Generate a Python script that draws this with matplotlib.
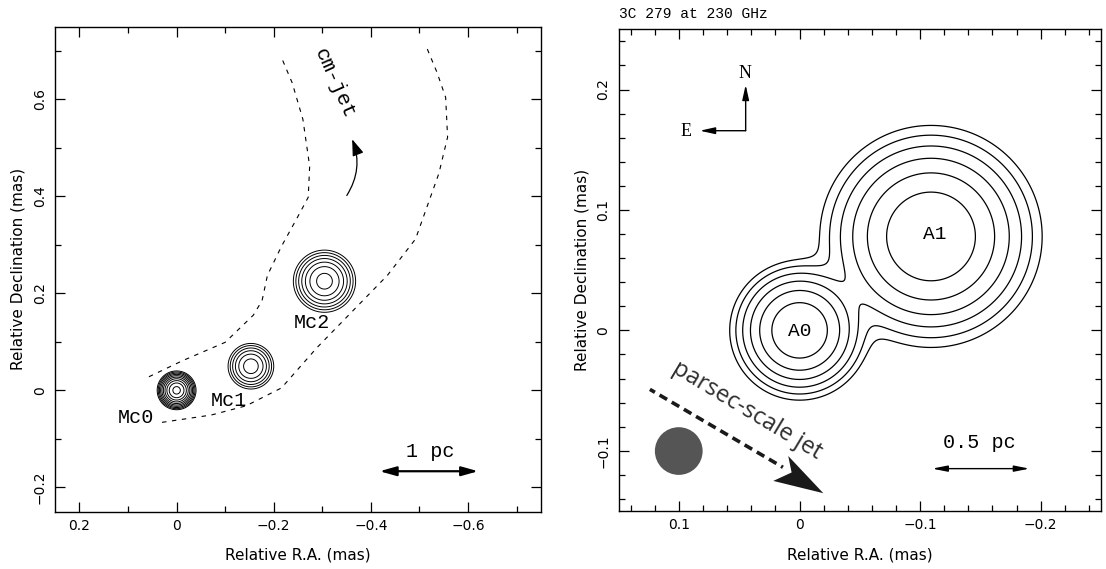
import numpy as np
import matplotlib
matplotlib.use('Agg')
import matplotlib.pyplot as plt
from matplotlib.patches import Circle, Polygon, FancyArrowPatch
from matplotlib.ticker import MultipleLocator, FuncFormatter

MONO = 'Liberation Mono'

# ---- left panel: components at 3 mm (RA, Dec in mas) ----
mc_names = ['Mc0', 'Mc1', 'Mc2']
mc_ra = [0.0, -0.153, -0.3045]
mc_dec = [0.0, 0.0497, 0.225]
mc_sigma = [0.0111, 0.0169, 0.0215]
mc_peak = [1.27, 0.093, 0.166]
mc_label_ra = [0.084, -0.107, -0.278]
mc_label_dec = [-0.056, -0.021, 0.140]
mc_levels = [2.0 ** -k for k in range(9, -1, -1)]

# edges of the cm-jet (dashed)
edge1_ra = [0.057, -0.012, -0.100, -0.158, -0.176, -0.187, -0.216, -0.249,
            -0.271, -0.274, -0.260, -0.238, -0.216]
edge1_dec = [0.028, 0.061, 0.099, 0.155, 0.185, 0.237, 0.297, 0.357,
             0.398, 0.462, 0.559, 0.634, 0.686]
edge2_ra = [0.030, -0.071, -0.143, -0.216, -0.289, -0.361, -0.434, -0.492,
            -0.540, -0.558, -0.554, -0.536, -0.514]
edge2_dec = [-0.066, -0.051, -0.032, 0.005, 0.088, 0.162, 0.237, 0.312,
             0.447, 0.522, 0.604, 0.656, 0.709]

cmjet_arrow = [(-0.3505, 0.4018), (-0.3615, 0.5177)]
cmjet_text = (-0.3245, 0.6336)
pc1_bar = [(-0.418, -0.1668), (-0.621, -0.1668)]
pc1_text = (-0.5215, -0.1256)

# ---- right panel: 230 GHz components ----
a_names = ['A0', 'A1']
a_ra = [0.0, -0.109]
a_dec = [0.0, 0.078]
a_sigma = [0.0202, 0.0321]
a_peak = [1.91, 1.93]
a_label_ra = [0.0, -0.112]
a_label_dec = [-0.001, 0.0794]
a_levels = [2.0 ** -k for k in range(5, -1, -1)]

beam_pos = (0.1002, -0.1002)
beam_radius = 0.0198

compass_corner = (0.0447, 0.1658)
compass_n_tip = (0.0447, 0.2039)
compass_e_tip = (0.0827, 0.1658)
n_label = (0.0453, 0.2133)
e_label = (0.0945, 0.1652)

jet_line_ra = [0.1241, 0.0138]
jet_line_dec = [-0.049, -0.1137]
jet_head_ra = [-0.0197, 0.0218, 0.0066, 0.0094]
jet_head_dec = [-0.1352, -0.125, -0.118, -0.1043]
jet_text = (0.046, -0.0711)

pc05_bar = [(-0.110, -0.1148), (-0.1906, -0.1148)]
pc05_text = (-0.1489, -0.0927)


def gauss_map(x, y, ra, dec, sig, peak):
    z = np.zeros_like(x)
    for r, d, s, p in zip(ra, dec, sig, peak):
        z += p * np.exp(-((x - r) ** 2 + (y - d) ** 2) / (2 * s ** 2))
    return z


def fmt(v, pos):
    if abs(v) < 1e-9:
        return '0'
    return ('%g' % round(v, 3)).replace('-', '\u2212')


def style_axes(ax, major, minor):
    for axis in (ax.xaxis, ax.yaxis):
        axis.set_major_locator(MultipleLocator(major))
        axis.set_minor_locator(MultipleLocator(minor))
        axis.set_major_formatter(FuncFormatter(fmt))
    ax.tick_params(which='both', direction='in', top=True, right=True, width=0.9)
    ax.tick_params(which='major', length=7)
    ax.tick_params(which='minor', length=4)
    ax.tick_params(axis='both', labelsize=10)
    ax.tick_params(axis='x', pad=5)
    ax.tick_params(axis='y', labelrotation=90, pad=6)
    for sp in ax.spines.values():
        sp.set_linewidth(1.0)
    plt.setp(ax.get_yticklabels(), va='center')


def arrow(ax, a, b, style, lw, **kw):
    p = FancyArrowPatch(a, b, arrowstyle=style, mutation_scale=10, lw=lw,
                        color='k', shrinkA=0, shrinkB=0, **kw)
    ax.add_patch(p)


plt.rcParams['font.family'] = 'DejaVu Sans'
fig = plt.figure(figsize=(11.06, 5.69), dpi=100)

# ---------------- left ----------------
ax1 = fig.add_axes([0.0499, 0.1009, 0.4391, 0.8524])
ax1.set_xlim(0.25, -0.75)
ax1.set_ylim(-0.25, 0.75)

gx = np.linspace(0.25, -0.75, 1000)
gy = np.linspace(-0.25, 0.75, 1000)
X1, Y1 = np.meshgrid(gx, gy)
Z1 = gauss_map(X1, Y1, mc_ra, mc_dec, mc_sigma, mc_peak)
ax1.contour(X1, Y1, Z1, levels=mc_levels, colors='k', linewidths=0.7)

ax1.plot(edge1_ra, edge1_dec, color='k', lw=0.8, ls=(0, (4, 5)))
ax1.plot(edge2_ra, edge2_dec, color='k', lw=0.8, ls=(0, (4, 5)))

for name, x, y in zip(mc_names, mc_label_ra, mc_label_dec):
    ax1.text(x, y, name, family=MONO, fontsize=14.5, ha='center', va='center')

arrow(ax1, cmjet_arrow[0], cmjet_arrow[1], '-|>,head_length=1.0,head_width=0.35', 0.9,
      connectionstyle='arc3,rad=0.25')
ax1.text(cmjet_text[0], cmjet_text[1], 'cm-jet', family=MONO, fontsize=15,
         rotation=-66, rotation_mode='anchor', ha='center', va='center')

arrow(ax1, pc1_bar[0], pc1_bar[1], '<|-|>,head_length=1.0,head_width=0.28', 1.6)
ax1.text(pc1_text[0], pc1_text[1], '1 pc', family=MONO, fontsize=14.5,
         ha='center', va='center')

style_axes(ax1, 0.2, 0.1)
ax1.set_xlabel('Relative R.A. (mas)', fontsize=11, labelpad=11)
ax1.set_ylabel('Relative Declination (mas)', fontsize=11, labelpad=5)

# ---------------- right ----------------
ax2 = fig.add_axes([0.5594, 0.1019, 0.4361, 0.8466])
ax2.set_xlim(0.15, -0.25)
ax2.set_ylim(-0.15, 0.25)

hx = np.linspace(0.15, -0.25, 1000)
hy = np.linspace(-0.15, 0.25, 1000)
X2, Y2 = np.meshgrid(hx, hy)
Z2 = gauss_map(X2, Y2, a_ra, a_dec, a_sigma, a_peak)
ax2.contour(X2, Y2, Z2, levels=a_levels, colors='k', linewidths=0.9)

for name, x, y in zip(a_names, a_label_ra, a_label_dec):
    ax2.text(x, y, name, family=MONO, fontsize=14, ha='center', va='center')

ax2.add_patch(Circle(beam_pos, beam_radius, color='#555555', lw=0))

# compass
arrow(ax2, compass_corner, compass_n_tip, '-|>,head_length=0.9,head_width=0.2', 1.0)
arrow(ax2, compass_corner, compass_e_tip, '-|>,head_length=0.9,head_width=0.2', 1.0)
ax2.text(n_label[0], n_label[1], 'N', family='Liberation Serif', fontsize=13,
         ha='center', va='center')
ax2.text(e_label[0], e_label[1], 'E', family='Liberation Serif', fontsize=13,
         ha='center', va='center')

# parsec-scale jet arrow
ax2.plot(jet_line_ra, jet_line_dec, color='#1a1a1a', lw=2.6, ls=(0.8, (2.4, 1.5)),
         solid_capstyle='butt', dash_capstyle='butt')
ax2.add_patch(Polygon(list(zip(jet_head_ra, jet_head_dec)), closed=True,
                      color='#1a1a1a', lw=0))
ax2.text(jet_text[0], jet_text[1], 'parsec-scale jet', family='Open Sans',
         fontsize=17, color='#2e2e2e', rotation=-31, rotation_mode='anchor',
         ha='center', va='baseline')

arrow(ax2, pc05_bar[0], pc05_bar[1], '<|-|>,head_length=0.9,head_width=0.18', 1.0)
ax2.text(pc05_text[0], pc05_text[1], '0.5 pc', family=MONO, fontsize=14.5,
         ha='center', va='center')

style_axes(ax2, 0.1, 0.02)
ax2.set_xlabel('Relative R.A. (mas)', fontsize=11, labelpad=11)
ax2.set_ylabel('Relative Declination (mas)', fontsize=11, labelpad=5)
ax2.text(0.0, 1.018, '3C 279 at 230 GHz', transform=ax2.transAxes, family=MONO,
         fontsize=10.5, ha='left', va='bottom')

fig.savefig('out.png', dpi=100)
